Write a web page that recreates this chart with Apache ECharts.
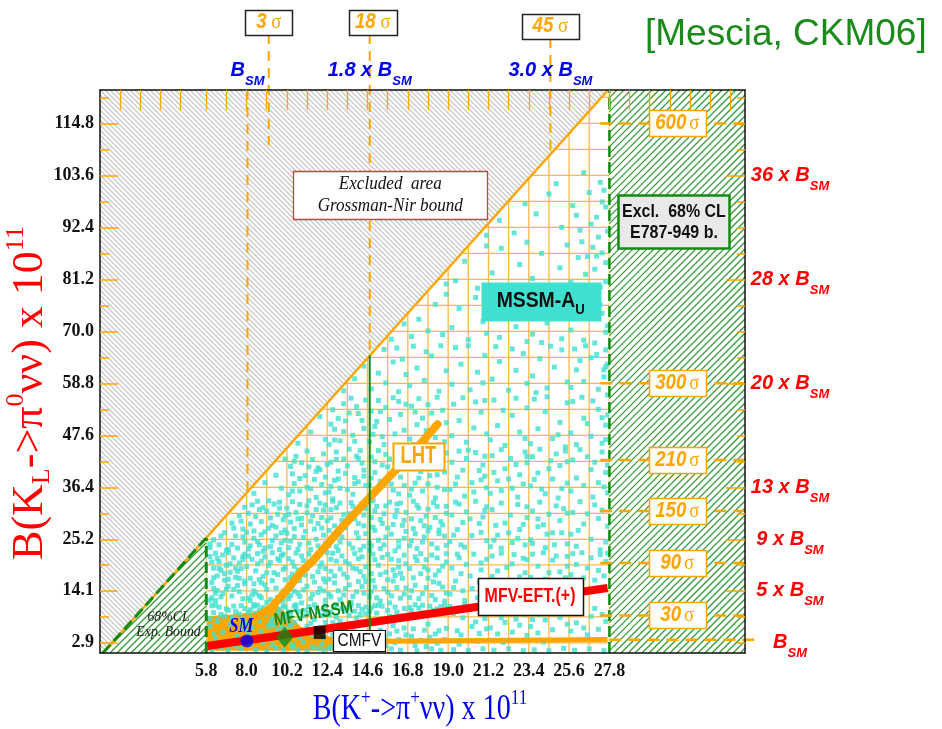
<!DOCTYPE html>
<html>
<head>
<meta charset="utf-8">
<script src="https://cdn.jsdelivr.net/npm/echarts@6/dist/echarts.min.js"></script>
<style>
  html, body { margin: 0; padding: 0; background: #ffffff; }
  #chart { width: 942px; height: 729px; }
</style>
</head>
<body>
<div id="chart"></div>
<script>
// ---------- axis ticks ----------
const xTicks = [5.8, 8.0, 10.2, 12.4, 14.6, 16.8, 19.0, 21.2, 23.4, 25.6, 27.8];
const yTicks = [2.9, 14.1, 25.2, 36.4, 47.6, 58.8, 70.0, 81.2, 92.4, 103.6, 114.8];
const yMinorTicks = [8.5, 19.7, 30.8, 42.0, 53.2, 64.4, 75.6, 86.8, 98.0, 109.2, 120.4];
const topTicks = [1.1, 2.2, 3.3, 4.4, 5.8, 6.9, 8.0, 9.1, 10.2, 11.3, 12.4, 13.5, 14.6, 15.7, 16.8, 17.9, 19.0,
  20.1, 21.2, 22.3, 23.4, 24.5, 25.6, 26.7, 27.8, 28.9, 30.0, 31.1, 32.2, 33.3, 34.4];
const rightMajorTicks = [14.1, 25.2, 36.4, 58.8, 81.2, 103.6];
const rightMinorTicks = [2.9, 8.5, 19.7, 30.8, 42.0, 47.6, 53.2, 64.4, 70.0, 75.6, 86.8, 92.4, 98.0, 109.2, 114.8, 120.4];

// orange binning grid of the allowed region
const gridX = [5.8, 6.9, 8.0, 9.1, 10.2, 11.3, 12.4, 13.5, 14.6, 15.7, 16.8, 17.9, 19.0, 20.1, 21.2, 22.3,
  23.4, 24.5, 25.6, 26.7, 27.8];
const gridY = [2.9, 8.5, 14.1, 19.7, 25.2, 30.8, 36.4, 42.0, 47.6, 53.2, 58.8, 64.4, 70.0, 75.6, 81.2, 86.8,
  92.4, 98.0, 103.6, 109.2, 114.8, 120.4];

// multiples of the SM value (right side, K_L) and top side (K+)
const klMultipleY = [2.9, 14.1, 25.2, 36.4, 58.8, 81.2, 103.6];
const klMultipleText = ['', '5 x ', '9 x ', '13 x ', '20 x ', '28 x ', '36 x '];
const kpMultipleX = [8.05, 14.72, 24.58];
const kpMultipleText = ['', '1.8 x ', '3.0 x '];

// significance levels
const topSigmaX = [9.21, 14.72, 24.58];
const topSigmaEndY = [110.1, 64.8, 108.2];
const topSigmaText = ['3', '18', '45'];
const sideSigmaY = [114.8, 58.8, 42.3, 31.3, 20.1, 8.8];
const sideSigmaText = ['600', '300', '210', '150', '90', '30'];
const smLineY = 3.55;
const smLineX = 8.05;

// bounds and regions
const gnBound = [[0.16, 0.7], [27.73, 122.0]];
const gnExcluded = [[0.0, 0.7], [0.16, 0.7], [27.73, 122.0], [0.0, 122.0]];
const expBoundRegion = [[0.16, 0.7], [5.8, 25.5], [5.8, 0.7]];
const e787Region = [[27.8, 0.7], [35.2, 0.7], [35.2, 122.0], [27.8, 122.0]];
const e787Edge = [[27.8, 0.7], [27.8, 122.0]];
const expBoundEdge = [[0.16, 0.7], [5.8, 25.5]];
const expBoundSide = [[5.8, 0.7], [5.8, 25.5]];
const mfvLine = [[14.72, 0.7], [14.72, 64.8]];

// model predictions
const mfvEftBand = [[5.85, 2.2], [27.7, 14.7]];
const cmfvBand = [[12.6, 3.2], [27.7, 3.6]];
const lhtCurve = [[8.5, 8.3], [9.3, 10.3], [10.1, 13.8], [10.94, 18.0], [11.65, 20.7], [13.12, 27.4],
  [14.76, 34.4], [16.24, 40.5], [17.4, 45.4], [18.42, 50.0]];
const lhtBlob = [[5.85, 1.2], [5.85, 8.6], [7.2, 9.0], [8.6, 9.6], [9.6, 11.3], [10.4, 8.5], [11.0, 6.3],
  [12.8, 3.9], [12.8, 1.2]];
const smPoint = [8.02, 3.3];
const mfvMssmPoint = [10.08, 4.1];
const cmfvPoint = [11.99, 5.1];

// MSSM-A_U scan points
const mssmPoints = [
  [6.0,8.1],[6.2,9.4],[6.5,10.6],[6.1,10.9],[6.8,8.6],[7.0,9.9],[7.3,10.8],[7.6,9.1],[7.9,10.3],[6.4,7.7],
  [6.9,10.2],[7.2,8.3],[7.7,10.9],[6.3,11.0],[6.6,9.0],[7.4,9.6],[7.8,8.0],[6.0,6.5],[6.7,5.2],[7.1,6.9],
  [7.5,4.4],[6.3,3.9],[7.9,5.8],[6.1,1.3],[7.0,1.2],[7.7,1.6],[6.6,2.0],[7.4,2.2],[6.2,4.8],[7.8,6.8],
  [8.1,9.5],[8.4,10.8],[8.7,7.6],[9.0,8.9],[9.3,10.4],[9.7,9.2],[10.0,10.9],[8.3,6.2],[8.8,5.4],[9.5,6.7],
  [9.9,7.8],[10.1,5.9],[8.5,1.4],[9.1,1.1],[9.6,1.8],[10.0,1.3],[8.2,2.6],[8.9,3.0],[9.4,2.5],[8.6,11.0],
  [9.2,6.4],[9.8,4.9],[10.1,8.5],[8.0,7.1],[8.3,8.4],[9.0,10.1],[9.6,11.1],[8.7,9.9],[9.4,8.0],[10.0,3.2],
  [10.3,9.6],[10.6,10.8],[10.9,8.2],[11.2,9.9],[11.5,7.1],[11.8,10.5],[12.1,8.8],[12.3,11.0],[10.4,6.5],[10.8,1.4],
  [11.3,1.1],[11.9,1.7],[12.2,1.2],[10.5,2.4],[11.1,3.1],[11.7,7.9],[12.0,6.2],[10.7,11.1],[11.4,10.7],[12.3,9.3],
  [10.3,7.8],[11.0,5.3],[11.6,4.6],[12.2,4.0],[10.9,4.1],
  [12.5,8.9],[12.8,10.7],[13.1,7.6],[13.4,9.8],[13.7,11.0],[14.0,8.3],[14.3,10.1],[14.5,9.2],[12.6,2.0],[13.0,1.3],
  [13.6,1.5],[14.2,1.2],[12.7,4.6],[13.3,5.1],[13.9,4.2],[14.4,4.8],[12.9,11.1],[13.5,10.4],[14.1,10.9],[13.2,3.9],
  [14.7,9.6],[15.0,10.9],[15.3,8.0],[15.7,9.9],[16.1,10.6],[16.5,8.7],[14.9,5.0],[15.5,4.3],[16.2,5.4],[16.7,4.6],
  [15.1,1.2],[15.9,1.6],[16.4,1.3],[14.8,7.2],[16.0,6.6],
  [16.9,10.5],[17.2,11.1],[17.6,9.3],[18.0,10.8],[18.4,10.2],[18.8,11.0],[17.0,4.3],[17.7,5.6],[18.3,4.8],[18.9,6.0],
  [17.3,1.2],[18.1,1.6],[18.6,1.3],[17.9,6.9],
  [19.1,10.7],[19.5,5.5],[19.9,11.1],[20.3,6.4],[20.7,4.9],[21.1,5.9],[19.3,1.4],[20.1,1.2],[20.9,1.6],[19.7,4.6],
  [20.5,7.4],[21.0,8.1],
  [21.3,6.1],[21.7,4.8],[22.1,7.3],[22.5,5.2],[22.9,6.7],[23.3,4.5],[21.5,1.3],[22.3,1.6],[23.1,1.2],[21.9,8.3],
  [22.7,8.0],[23.2,9.1],
  [23.5,6.4],[23.9,5.0],[24.3,7.8],[24.7,5.7],[25.1,8.4],[25.5,6.9],[23.7,1.4],[24.5,1.2],[25.3,1.7],[24.0,9.0],
  [24.9,9.6],[23.6,7.9],
  [25.7,5.4],[26.0,7.2],[26.4,6.1],[26.8,8.6],[27.2,5.8],[27.6,7.5],[25.9,1.3],[26.7,1.6],[27.5,1.2],[26.2,9.5],
  [27.0,10.3],[27.4,9.0],[25.8,10.8],[26.6,4.6],
  [6.0,12.1],[6.3,13.6],[6.6,12.8],[6.9,14.5],[7.2,13.0],[7.5,15.2],[7.8,12.4],[6.1,15.9],[6.4,17.3],[6.8,16.4],
  [7.1,18.1],[7.4,17.0],[7.7,18.9],[7.9,16.2],[6.2,19.0],[6.5,20.4],[6.9,19.6],[7.3,21.2],[7.6,20.1],[7.9,22.0],
  [6.0,21.5],[6.3,22.2],[6.7,21.8],[7.0,22.3],[7.4,19.0],[6.2,14.6],[7.6,13.9],[6.6,18.5],[7.0,16.6],[7.8,20.9],
  [8.1,12.5],[8.4,14.1],[8.7,13.0],[9.0,15.4],[9.3,12.2],[9.6,14.7],[9.9,13.3],[8.2,16.8],[8.5,18.4],[8.9,17.2],
  [9.2,19.5],[9.5,18.0],[9.8,20.6],[10.1,19.1],[8.3,20.9],[8.6,22.1],[9.0,21.4],[9.4,22.3],[9.7,21.0],[10.0,22.0],
  [8.0,19.3],[8.8,15.8],[10.1,16.5],[9.4,16.3],[8.3,13.2],[9.1,11.6],[10.0,12.0],[8.6,19.9],
  [10.3,12.4],[10.6,14.0],[10.9,12.9],[11.3,15.1],[11.6,13.3],[12.0,14.6],[12.3,12.1],[10.4,16.9],[10.8,18.6],[11.2,17.5],
  [11.5,19.8],[11.9,18.2],[12.2,16.7],[10.3,21.0],[10.7,22.2],[11.1,20.6],[11.4,22.0],[11.8,21.3],[12.1,20.1],[12.4,22.3],
  [10.6,19.4],[11.7,16.0],[12.3,18.9],[10.5,15.3],[11.0,11.5],
  [12.5,13.4],[12.8,15.8],[13.1,12.2],[13.4,14.6],[13.8,12.9],[14.1,16.1],[14.4,13.6],[12.6,18.3],[12.9,20.5],[13.3,17.7],
  [13.6,19.9],[14.0,18.8],[14.3,21.4],[12.7,22.2],[13.2,21.6],[13.9,22.1],[14.5,19.3],[12.5,16.6],[13.7,11.6],[14.4,17.2],
  [14.7,12.8],[15.0,14.9],[15.3,11.9],[15.7,13.8],[16.0,16.2],[16.4,12.5],[16.7,14.7],[14.8,17.8],[15.2,19.6],[15.6,18.1],
  [15.9,20.9],[16.3,19.2],[16.6,21.8],[14.9,22.0],[15.4,21.3],[16.1,17.4],[16.5,16.8],[15.8,11.5],
  [16.9,12.7],[17.2,15.3],[17.6,13.5],[17.9,16.8],[18.3,12.2],[18.7,14.9],[16.9,18.9],[17.3,20.6],[17.7,19.2],[18.1,21.8],
  [18.5,18.4],[18.9,20.3],[17.5,22.1],[18.2,16.0],[18.8,11.9],
  [19.1,13.4],[19.4,16.2],[19.8,14.1],[20.2,17.3],[20.6,12.6],[21.0,15.5],[19.2,19.0],[19.6,21.2],[20.0,19.8],[20.4,22.0],
  [20.8,18.6],[21.1,20.9],[19.9,12.0],[20.7,16.0],
  [21.3,15.7],[21.7,18.4],[22.1,16.3],[22.5,19.9],[22.9,17.1],[23.3,20.8],[21.4,21.6],[21.9,22.2],[22.6,21.9],[23.1,14.9],
  [22.3,13.0],[23.2,18.0],
  [23.5,17.0],[23.9,19.4],[24.3,16.6],[24.7,20.7],[25.1,18.2],[25.5,21.5],[23.6,22.0],[24.2,22.3],[24.9,15.9],[25.4,16.9],
  [24.0,11.6],[24.6,12.0],
  [25.7,17.6],[26.0,19.8],[26.4,16.9],[26.8,21.2],[27.2,18.5],[27.6,20.4],[25.8,22.1],[26.3,22.3],[27.0,16.4],[27.5,17.3],
  [26.6,19.0],[27.3,21.9],[25.9,15.8],[27.7,22.2],
  [6.0,23.4],[6.2,25.1],[6.5,24.0],[6.8,26.6],[7.0,23.0],[7.2,28.7],[7.4,25.9],[7.6,30.3],[7.8,27.4],[7.9,32.1],
  [8.1,23.1],[8.4,25.4],[8.7,24.0],[9.0,26.8],[9.3,23.6],[9.6,25.9],[9.9,24.4],[10.1,27.2],[8.2,28.5],[8.5,30.1],
  [8.8,29.0],[9.1,31.3],[9.4,28.2],[9.7,30.6],[10.0,29.4],[8.3,32.6],[8.6,33.4],[8.9,32.0],[9.2,33.5],[9.5,32.8],
  [9.8,33.2],[10.2,31.9],[8.0,26.7],[9.6,27.8],[8.9,22.6],
  [10.3,23.4],[10.6,25.8],[10.9,24.1],[11.2,26.9],[11.5,23.0],[11.8,25.2],[12.1,27.6],[12.3,24.3],[10.4,28.9],[10.7,31.0],
  [11.0,29.7],[11.3,32.4],[11.6,30.3],[11.9,28.6],[12.2,31.5],[10.5,33.3],[10.9,32.7],[11.4,33.5],[12.0,33.0],[12.4,29.2],
  [10.2,26.5],[11.7,27.4],
  [12.5,23.9],[12.8,26.2],[13.1,24.6],[13.4,27.7],[13.8,23.3],[14.1,25.5],[14.4,28.1],[12.6,29.8],[12.9,32.0],[13.3,30.5],
  [13.7,33.1],[14.0,31.2],[14.3,32.9],[12.7,33.4],[13.5,28.9],[14.5,26.4],[12.5,27.1],[13.0,22.8],[14.2,22.9],[13.9,29.6],
  [14.7,24.4],[15.0,27.1],[15.3,23.2],[15.6,25.7],[16.0,28.4],[16.3,24.8],[16.7,26.9],[14.8,29.9],[15.1,32.3],[15.5,30.7],
  [15.8,33.2],[16.2,31.4],[16.6,29.3],[14.9,33.5],[15.4,28.6],[16.4,33.0],[16.1,22.7],[14.7,22.9],
  [16.9,23.8],[17.2,26.4],[17.6,24.6],[18.0,27.8],[18.4,23.3],[18.8,25.9],[17.0,29.6],[17.4,31.9],[17.8,30.2],[18.2,33.1],
  [18.6,29.0],[18.9,32.3],[17.1,33.4],[17.7,28.1],[18.5,27.2],
  [19.1,24.7],[19.5,27.3],[19.9,23.5],[20.3,26.0],[20.7,28.6],[21.1,24.9],[19.2,30.4],[19.6,32.8],[20.0,31.1],[20.5,33.4],
  [20.9,30.0],[21.1,32.2],[19.8,28.8],
  [21.3,23.6],[21.7,26.1],[22.1,28.7],[22.5,24.5],[22.9,27.3],[23.3,29.9],[21.4,31.6],[21.9,33.0],[22.4,30.4],[22.8,32.7],
  [23.2,24.0],[21.6,28.2],
  [23.5,25.1],[23.9,27.9],[24.3,23.4],[24.7,26.6],[25.1,29.2],[25.5,24.2],[23.6,31.3],[24.0,33.2],[24.5,30.6],[24.9,32.4],
  [25.3,31.8],[24.2,28.3],
  [25.7,26.3],[26.0,23.7],[26.4,28.5],[26.8,25.2],[27.2,29.7],[27.6,24.6],[25.8,31.0],[26.2,33.3],[26.6,30.7],[27.0,32.6],
  [27.4,31.5],[27.7,28.0],[26.1,27.1],[27.3,22.9],
  [8.4,35.1],[9.0,37.4],[9.6,39.0],[9.9,36.2],[10.1,42.5],
  [10.3,34.8],[10.6,37.2],[10.9,35.6],[11.2,38.9],[11.5,36.1],[11.8,39.8],[12.1,37.0],[12.3,35.2],[10.4,40.9],[10.7,43.1],
  [11.0,41.7],[11.3,44.2],[11.6,42.4],[11.9,40.6],[12.2,43.6],[12.4,41.3],[10.5,39.3],[11.8,34.2],
  [12.5,35.4],[12.8,37.9],[13.1,36.2],[13.4,39.4],[13.8,34.9],[14.1,37.6],[14.4,40.1],[12.6,41.8],[12.9,44.0],[13.3,42.5],
  [13.6,44.6],[14.0,43.1],[14.3,41.6],[14.5,36.8],[13.0,39.9],[12.7,33.9],[13.9,38.5],[14.2,44.3],
  [14.7,36.9],[15.0,39.6],[15.3,37.7],[15.7,40.8],[16.0,35.8],[16.4,38.6],[16.7,42.3],[14.8,42.9],[15.2,44.3],[15.6,43.5],
  [16.1,41.4],[16.5,44.6],[14.9,34.6],[15.9,37.1],[16.3,35.0],[15.4,41.2],
  [16.9,34.7],[17.2,37.3],[17.6,35.6],[18.0,38.9],[18.4,36.4],[18.8,39.7],[17.0,41.1],[17.4,43.5],[17.8,42.0],[18.2,44.5],
  [18.6,41.9],[18.9,43.8],[17.5,39.8],[18.3,34.1],
  [19.1,35.9],[19.5,38.6],[19.9,34.5],[20.3,37.4],[20.7,40.0],[21.1,36.3],[19.2,41.8],[19.6,44.2],[20.0,42.6],[20.5,43.9],
  [20.9,41.2],[21.0,38.8],
  [21.3,35.1],[21.7,37.8],[22.1,40.4],[22.5,36.2],[22.9,39.1],[23.3,41.7],[21.4,43.2],[21.9,44.5],[22.4,42.6],[22.8,34.3],
  [23.2,44.0],
  [23.5,36.7],[23.9,39.5],[24.3,35.0],[24.7,38.2],[25.1,41.1],[25.5,37.3],[23.6,43.0],[24.0,44.6],[24.6,42.1],[25.0,34.1],
  [25.4,44.2],
  [25.7,35.6],[26.0,38.4],[26.4,36.8],[26.8,40.2],[27.2,37.4],[27.6,39.6],[25.8,42.3],[26.2,44.5],[26.6,43.0],[27.0,41.8],
  [27.4,44.0],[27.7,35.2],[26.9,34.3],
  [10.8,45.9],[11.5,48.3],[12.0,51.6],[12.3,46.7],
  [12.5,45.6],[12.8,48.9],[13.1,46.4],[13.4,50.7],[13.8,47.6],[14.1,52.3],[14.4,49.1],[12.7,53.1],[13.3,54.4],[13.7,55.6],
  [14.0,53.8],[14.5,55.2],[13.0,51.2],[12.6,50.0],
  [14.7,46.2],[15.0,49.5],[15.4,47.3],[15.8,51.0],[16.2,45.4],[16.6,48.7],[14.8,52.8],[15.2,55.1],[15.6,53.6],[16.0,55.7],
  [16.4,52.1],[16.7,54.3],[15.1,50.6],
  [16.9,46.8],[17.3,49.9],[17.7,47.2],[18.1,52.4],[18.5,45.5],[18.9,50.3],[17.0,53.9],[17.4,55.5],[17.9,54.2],[18.4,55.8],
  [18.7,53.0],[17.6,51.3],
  [19.2,47.5],[19.6,50.8],[20.0,46.1],[20.4,49.2],[20.8,52.6],[21.1,47.9],[19.3,54.3],[19.8,55.7],[20.5,54.8],[21.0,55.1],
  [21.3,46.6],[21.7,49.7],[22.1,45.4],[22.5,51.9],[22.9,48.3],[23.3,53.5],[21.5,55.2],[22.0,53.0],[22.7,55.6],[23.2,46.9],
  [23.5,45.8],[23.9,49.0],[24.3,52.7],[24.7,46.9],[25.1,50.4],[25.5,54.6],[23.7,55.4],[24.4,55.9],[25.0,47.7],[25.4,45.1],
  [25.7,48.1],[26.0,45.6],[26.4,51.3],[26.8,47.4],[27.2,53.2],[27.6,49.8],[25.8,54.9],[26.3,55.8],[26.9,55.0],[27.4,45.9],
  [27.7,52.0],[26.6,50.1],
  [13.3,57.2],[13.9,59.8],[14.4,62.5],
  [14.8,57.6],[15.2,61.0],[15.6,58.9],[16.0,63.4],[16.3,57.0],[16.7,60.7],[15.5,66.1],[16.2,66.4],[16.5,64.0],
  [16.9,58.3],[17.3,62.1],[17.7,59.4],[18.1,64.7],[18.5,57.1],[18.9,61.5],[17.1,66.8],[17.8,65.6],[18.6,66.9],
  [19.2,58.6],[19.7,62.9],[20.2,57.4],[20.6,61.2],[21.0,64.8],[19.4,66.5],[20.1,66.9],[20.9,58.9],
  [21.4,59.7],[21.8,63.5],[22.3,57.3],[22.7,61.6],[23.1,65.2],[21.6,66.7],[22.5,66.2],[23.3,58.8],
  [23.6,60.4],[24.0,64.1],[24.4,57.8],[24.8,62.3],[25.2,66.0],[25.5,59.1],[23.8,56.8],[24.6,66.8],
  [25.7,57.9],[26.0,61.7],[26.4,59.2],[26.8,64.3],[27.2,57.5],[27.6,62.4],[25.9,66.2],[26.5,66.9],[27.1,65.0],[27.5,60.2],
  [26.2,63.7],
  [15.9,68.3],[16.6,71.6],
  [17.0,68.9],[17.4,72.6],[17.9,70.1],[18.3,75.8],[18.7,69.3],[18.9,78.0],
  [19.2,70.8],[19.6,74.9],[20.1,68.2],[20.5,77.3],[20.9,72.1],[21.1,69.6],
  [21.4,73.7],[21.8,68.7],[22.3,76.4],[22.7,71.0],[23.1,78.1],[23.3,67.8],
  [23.6,69.4],[24.0,74.2],[24.4,71.8],[24.8,77.6],[25.2,68.4],[25.5,73.0],[24.1,67.6],
  [25.7,70.3],[26.0,75.4],[26.4,68.1],[26.8,72.7],[27.2,77.9],[27.6,69.8],[25.9,78.2],[26.6,76.1],[27.4,73.9],[27.0,67.5],
  [18.9,80.2],
  [19.4,80.9],[19.9,85.1],[20.6,79.3],[21.1,88.4],
  [21.4,82.6],[21.9,87.9],[22.4,79.8],[22.9,84.4],[23.3,89.2],
  [23.6,81.4],[24.1,86.8],[24.6,79.1],[25.1,83.7],[25.5,88.6],
  [25.7,80.6],[26.1,85.9],[26.5,82.3],[26.9,88.1],[27.3,79.5],[27.6,84.8],[26.3,89.3],[27.1,86.2],
  [21.1,90.7],[21.8,93.9],[22.6,91.2],[23.2,97.5],[23.8,95.3],[24.5,99.6],[25.2,92.4],
  [25.8,97.1],[26.2,91.8],[26.7,99.9],[27.1,94.6],[27.5,100.4],[26.0,95.0],
  [24.9,101.8],[26.4,104.2],[27.3,102.1],
  // denser core of the scan at low branching ratios
  [6.1,12.6],[6.4,14.2],[6.7,13.5],[7.0,15.1],[7.3,14.4],[7.6,16.8],[7.9,15.6],[6.2,16.9],[6.5,18.9],[6.8,17.8],
  [7.1,19.9],[7.5,18.3],[7.8,21.5],[6.1,20.3],[6.4,21.1],[6.9,22.8],[7.2,24.1],[7.5,23.3],[7.8,25.7],[6.0,24.2],
  [6.6,25.9],[7.3,27.6],[7.7,29.1],[7.9,24.6],[6.3,12.0],
  [8.2,10.0],[8.5,9.3],[8.9,10.5],[9.2,9.6],[9.8,10.1],[10.1,10.6],[9.5,4.6],[9.9,6.3],[8.6,3.8],[9.0,4.2],
  [8.1,5.1],[10.0,8.9],[9.7,5.6],[8.4,11.1],[9.3,7.2],
  [8.2,12.0],[8.5,13.6],[8.8,12.6],[9.1,14.4],[9.7,12.7],[10.0,14.0],[8.4,15.6],[8.7,16.5],[9.1,18.0],[9.7,17.6],
  [10.0,18.7],[8.1,21.6],[8.8,20.5],[9.3,20.2],[9.9,21.7],
  [8.2,23.8],[8.6,24.7],[9.0,23.3],[9.4,24.9],[9.8,23.0],[10.1,25.0],[8.4,27.0],[8.8,26.2],[9.2,27.6],[9.9,26.6],
  [8.1,30.8],[8.7,31.6],[9.3,29.8],[9.8,31.9],[10.1,30.3],
  [10.4,9.0],[10.7,10.1],[11.1,8.7],[11.4,9.3],[11.9,9.6],[12.2,10.2],[10.6,7.3],[11.3,6.4],[11.9,5.6],[12.3,7.3],
  [10.5,1.9],[11.6,2.0],[12.1,2.6],[10.9,9.6],[11.7,11.1],
  [10.4,13.1],[10.8,13.6],[11.1,14.3],[11.5,12.4],[11.9,13.7],[12.2,14.1],[10.5,17.7],[10.9,16.3],[11.3,18.9],[11.6,17.2],
  [12.0,19.3],[12.3,16.0],[10.5,20.3],[11.0,21.6],[11.6,20.6],
  [10.4,24.8],[10.8,23.0],[11.1,25.6],[11.4,24.4],[11.9,23.8],[12.2,26.1],[10.6,27.5],[11.0,28.3],[11.5,29.1],[11.8,31.6],
  [12.3,32.6],[10.3,30.6],[10.8,29.6],[11.3,30.9],[12.1,29.9],
  [12.6,9.6],[12.9,8.4],[13.2,10.3],[13.6,8.8],[13.9,9.7],[14.2,9.0],[14.5,10.6],[12.7,7.2],[13.4,6.6],[14.0,6.9],
  [12.5,1.7],[13.3,2.3],[14.0,2.0],[14.4,3.1],[13.8,5.6],
  [12.6,12.8],[13.0,14.1],[13.3,13.2],[13.6,15.4],[14.0,13.9],[14.3,15.0],[12.8,17.3],[13.1,18.8],[13.5,17.0],[13.8,19.0],
  [14.2,18.2],[14.5,16.1],[12.6,20.9],[13.4,20.4],[14.1,21.0],
  [12.6,24.9],[12.9,23.6],[13.2,25.7],[13.6,24.2],[14.0,26.6],[14.4,23.7],[12.8,28.1],[13.2,29.3],[13.6,30.7],[14.1,28.6],
  [14.4,30.4],[12.6,31.6],[13.1,33.0],[13.8,32.3],[14.5,31.8],
  [14.8,10.4],[15.1,9.3],[15.4,10.8],[15.8,8.6],[16.2,9.5],[16.6,10.3],[14.9,3.4],[15.3,5.6],[15.8,4.8],[16.3,3.6],
  [16.6,6.1],[14.7,1.8],[15.6,2.3],[16.1,2.9],[15.2,11.0],
  [14.8,13.9],[15.1,12.6],[15.5,14.6],[15.9,13.0],[16.2,14.8],[16.6,13.4],[14.9,16.3],[15.3,17.6],[15.7,16.5],[16.0,18.6],
  [16.4,17.9],[16.7,19.9],[15.0,20.8],[15.7,21.9],[16.3,20.6],
  [14.8,23.8],[15.2,25.0],[15.5,24.0],[15.9,26.3],[16.3,23.6],[16.6,25.4],[14.9,27.8],[15.3,29.5],[15.7,27.6],[16.1,30.1],
  [16.5,28.2],[15.0,31.3],[15.6,32.4],[16.2,32.8],[16.7,31.0],
  [17.0,9.8],[17.4,10.4],[17.8,9.0],[18.2,9.9],[18.6,10.7],[18.9,9.4],[17.1,5.9],[17.5,3.4],[18.0,4.1],[18.5,5.5],
  [17.2,2.3],[17.8,2.1],[18.4,2.8],[18.8,3.6],[17.6,11.0],
  [17.0,14.1],[17.4,12.4],[17.8,14.8],[18.1,13.1],[18.5,15.7],[18.9,13.6],[17.1,16.9],[17.5,17.8],[17.9,18.6],[18.3,17.5],
  [18.7,19.4],[17.2,21.4],[17.8,20.8],[18.4,21.2],[18.9,22.1],
  [17.0,24.9],[17.3,23.2],[17.7,25.7],[18.1,24.2],[18.5,26.4],[18.9,23.9],[17.1,27.5],[17.5,29.2],[17.9,27.0],[18.3,29.9],
  [18.7,28.3],[17.3,32.5],[17.9,31.7],[18.4,32.3],[18.9,30.8],
  [10.5,35.6],[10.9,38.3],[11.3,36.4],[11.7,38.1],[12.0,40.2],[12.3,38.6],[10.6,42.0],[11.4,40.8],
  [12.6,36.6],[13.0,38.2],[13.5,35.9],[13.9,37.2],[14.4,38.8],[12.9,42.4],[13.5,41.0],[14.1,42.6],
  [14.8,38.4],[15.2,36.0],[15.6,38.2],[16.1,39.8],[16.6,36.8],[15.0,41.9],[15.8,42.5],[16.4,43.4],
  [17.0,36.0],[17.4,38.4],[17.9,37.1],[18.4,39.1],[18.8,35.9],[17.2,42.4],[18.0,43.4],[18.7,42.8],
  [12.8,46.6],[13.3,48.4],[13.9,46.3],[14.3,50.8],[13.6,52.4],
  [14.9,47.8],[15.5,45.6],[16.1,47.9],[15.3,52.7],[16.3,54.9],
  [17.1,45.6],[17.8,48.6],[18.3,47.1],[18.8,46.2],[17.2,52.6],
  [19.3,9.2],[19.8,8.3],[20.4,10.5],[20.9,9.8],[19.6,2.6],[20.6,3.2],
  [19.3,14.8],[19.7,17.8],[20.3,14.6],[20.8,20.1],[21.1,13.9],[19.5,22.0],
  [19.3,26.1],[19.7,24.0],[20.2,29.6],[20.8,26.7],[21.0,31.4],[19.4,33.2],
  [19.4,37.1],[19.8,40.1],[20.4,35.4],[20.8,38.0],[21.0,43.1],[20.1,44.4],
  [21.5,10.6],[21.9,11.0],[22.4,10.2],[22.8,10.9],[23.2,11.1],[22.0,3.0],
  [21.4,17.2],[21.8,14.6],[22.2,19.1],[22.7,15.6],[23.1,21.1],[23.3,16.4],
  [21.5,25.0],[21.9,23.3],[22.3,26.6],[22.8,25.4],[23.1,28.4],[23.3,32.2],
  [21.5,39.6],[21.9,35.7],[22.3,38.2],[22.7,41.3],[23.1,37.1],[23.3,43.0],
  [23.6,10.4],[24.1,11.0],[24.6,10.6],[25.1,10.9],[25.4,11.1],[24.2,3.1],
  [23.7,13.1],[24.1,14.4],[24.5,18.0],[24.9,21.6],[25.3,14.0],[25.5,19.4],
  [23.6,24.3],[23.9,29.6],[24.4,26.3],[24.8,24.0],[25.2,26.6],[25.5,30.8],
  [23.7,38.1],[24.1,36.0],[24.5,40.4],[24.9,43.6],[25.2,36.1],[25.5,41.9],
  [27.5,36.5],[27.7,41.2],[27.6,46.7],[27.4,51.4],[27.7,56.3],[27.5,61.7],[27.6,66.0],[27.7,71.2],[27.3,75.8],[27.6,80.7],
  [27.4,86.9],[27.7,91.6],[27.6,96.8],[27.2,90.3],[26.8,93.1],[27.4,97.9],[26.6,86.1],[27.0,83.4],[26.2,78.8],[27.7,62.9]
];

// ---------- styling ----------
const X_MIN = 0, X_MAX = 35.2, Y_MIN = 0.7, Y_MAX = 122.0;
const ORANGE = '#ffa500';
const GRID_ORANGE = '#fbba48';
const CYAN = '#40e0d0';
const GREEN = '#138a13';
const HATCH_GREEN = '#2f9a2f';
const HATCH_GREY = '#cbcbcb';
const RED = '#ff0000';
const BLUE = '#0000f0';
const SERIF = '"Liberation Serif", "Times New Roman", serif';
const SANS = '"Liberation Sans", Arial, Helvetica, sans-serif';

// ---------- series builders ----------
function segmentSeries(segs, style, z, clip) {
  return {
    type: 'custom', coordinateSystem: 'cartesian2d', z: z, silent: true, clip: !!clip,
    encode: { x: [0, 2], y: [1, 3] },
    data: segs,
    renderItem: (params, api) => {
      const a = api.coord([api.value(0), api.value(1)]);
      const b = api.coord([api.value(2), api.value(3)]);
      return { type: 'line', shape: { x1: a[0], y1: a[1], x2: b[0], y2: b[1] }, style: Object.assign({ fill: 'none' }, style) };
    }
  };
}
function pathSeries(pts, style, z) {
  return {
    type: 'custom', coordinateSystem: 'cartesian2d', z: z, silent: true, clip: false,
    encode: { x: 0, y: 1 },
    data: [pts[0]],
    renderItem: (params, api) => ({
      type: 'polyline', shape: { points: pts.map(p => api.coord(p)) },
      style: Object.assign({ fill: 'none' }, style)
    })
  };
}
function polygonSeries(verts, style, z) {
  return {
    type: 'custom', coordinateSystem: 'cartesian2d', z: z, silent: true, clip: false,
    encode: { x: 0, y: 1 },
    data: [verts[0]],
    renderItem: (params, api) => ({
      type: 'polygon', shape: { points: verts.map(p => api.coord(p)) }, style: style
    })
  };
}
// convex region filled white and hatched with parallel 45-degree strokes
// dir > 0: strokes falling to the right, dir < 0: strokes rising to the right
function hatchSeries(verts, dir, step, color, width, z) {
  return {
    type: 'custom', coordinateSystem: 'cartesian2d', z: z, silent: true, clip: false,
    encode: { x: 0, y: 1 },
    data: [verts[0]],
    renderItem: (params, api) => {
      const pts = verts.map(v => api.coord(v));
      const key = p => (dir > 0 ? p[0] - p[1] : p[0] + p[1]);
      const ks = pts.map(key);
      const kMin = Math.min.apply(null, ks), kMax = Math.max.apply(null, ks);
      const kids = [{ type: 'polygon', shape: { points: pts }, style: { fill: '#ffffff' } }];
      for (let c = Math.ceil(kMin / step) * step; c <= kMax; c += step) {
        const hits = [];
        for (let i = 0; i < pts.length; i++) {
          const a = pts[i], b = pts[(i + 1) % pts.length];
          const fa = key(a) - c, fb = key(b) - c;
          if ((fa < 0 && fb >= 0) || (fa >= 0 && fb < 0)) {
            const t = fa / (fa - fb);
            hits.push([a[0] + t * (b[0] - a[0]), a[1] + t * (b[1] - a[1])]);
          }
        }
        if (hits.length >= 2) {
          hits.sort((p, q) => p[0] - q[0]);
          const p = hits[0], q = hits[hits.length - 1];
          kids.push({ type: 'line', shape: { x1: p[0], y1: p[1], x2: q[0], y2: q[1] },
            style: { stroke: color, lineWidth: width, fill: 'none' } });
        }
      }
      return { type: 'group', children: kids };
    }
  };
}
function textStyle(o) {
  return {
    text: o.text, fill: o.color, fontSize: o.fontSize, fontFamily: o.fontFamily,
    fontWeight: o.fontWeight || 'normal', fontStyle: o.fontStyle || 'normal',
    lineHeight: o.lineHeight, rich: o.rich,
    align: 'center', verticalAlign: 'middle', textAlign: 'center', textVerticalAlign: 'middle'
  };
}
function noteSeries(at, o) {
  return {
    type: 'custom', coordinateSystem: 'cartesian2d', z: o.z || 7, silent: true, clip: false,
    encode: { x: 0, y: 1 },
    data: [at],
    renderItem: (params, api) => {
      const c = api.coord([api.value(0), api.value(1)]);
      const kids = [];
      if (o.w) {
        kids.push({
          type: 'rect',
          shape: { x: Math.round(c[0] - o.w / 2) + 0.5, y: Math.round(c[1] - o.h / 2) + 0.5, width: o.w, height: o.h },
          style: { fill: o.fill || '#ffffff', stroke: o.stroke || 'none', lineWidth: o.lineWidth || 1 }
        });
      }
      kids.push({
        type: 'text', x: c[0], y: c[1] + (o.dy || 0), rotation: o.rotation || 0,
        scaleX: o.scaleX || 1, scaleY: o.scaleY || 1, style: textStyle(o)
      });
      return { type: 'group', children: kids };
    }
  };
}

// ---------- derived data for the builders ----------
const gridSegments = gridX.map(x => [x, Y_MIN, x, Y_MAX])
  .concat(gridY.map(y => [5.8, y, 27.8, y]));
const sideSigmaSegments = sideSigmaY.map(y => [27.3, y, 35.35, y]);
const seg = s => [s[0][0], s[0][1], s[1][0], s[1][1]];

const series = [
  // binning grid of the allowed region
  segmentSeries(gridSegments, { stroke: GRID_ORANGE, lineWidth: 1.3 }, 1, true),
  // LHT low-mass region
  polygonSeries(lhtBlob, { fill: ORANGE }, 1.5),
  // MSSM-A_U scan
  {
    type: 'scatter', data: mssmPoints, symbol: 'rect', symbolSize: 5, z: 2, silent: true,
    itemStyle: { color: CYAN }, animation: false
  },
  // LHT band, CMFV band and MFV-EFT band
  pathSeries(lhtCurve, { stroke: ORANGE, lineWidth: 8, lineCap: 'round', lineJoin: 'round' }, 3),
  segmentSeries([seg(cmfvBand)], { stroke: ORANGE, lineWidth: 5 }, 3),
  segmentSeries([seg(mfvEftBand)], { stroke: RED, lineWidth: 8 }, 3.2),
  // excluded regions
  hatchSeries(gnExcluded, 1, 5, HATCH_GREY, 1.4, 4),
  hatchSeries(expBoundRegion, -1, 7, HATCH_GREEN, 1.2, 4),
  hatchSeries(e787Region, -1, 7, HATCH_GREEN, 1.2, 4),
  // boundaries
  segmentSeries([seg(gnBound)], { stroke: ORANGE, lineWidth: 2.5 }, 5),
  segmentSeries([seg(expBoundEdge), seg(expBoundSide)], { stroke: GREEN, lineWidth: 3, lineDash: [11, 5] }, 5.2),
  segmentSeries([seg(e787Edge)], { stroke: GREEN, lineWidth: 2.5, lineDash: [11, 5] }, 5.2),
  segmentSeries([seg(mfvLine)], { stroke: GREEN, lineWidth: 2 }, 5),
  // SM value of B(K+) (vertical) and of B(K_L) (horizontal)
  segmentSeries([[smLineX, Y_MAX, smLineX, 4.4 * smLineX]], { stroke: ORANGE, lineWidth: 2, lineDash: [10, 7] }, 5),
  segmentSeries([[27.8, smLineY, 35.7, smLineY]], { stroke: ORANGE, lineWidth: 2.5, lineDash: [12, 7] }, 5.5, false),
  // significance levels on the K_L side
  segmentSeries(sideSigmaSegments, { stroke: ORANGE, lineWidth: 2.5, lineDash: [12, 7] }, 5.5, false),
  {
    type: 'custom', coordinateSystem: 'cartesian2d', z: 6, silent: true, clip: false,
    encode: { x: 0, y: 1 },
    data: sideSigmaY.map(y => [31.5, y]),
    renderItem: (params, api) => {
      const c = api.coord([api.value(0), api.value(1)]);
      const w = 57, h = 26;
      return {
        type: 'group', children: [
          { type: 'rect', shape: { x: Math.round(c[0] - w / 2) + 0.5, y: Math.round(c[1] - h / 2) + 0.5, width: w, height: h },
            style: { fill: '#ffffff', stroke: ORANGE, lineWidth: 1.5 } },
          { type: 'text', x: c[0], y: c[1], scaleX: 0.85,
            style: textStyle({ text: '{n|' + sideSigmaText[params.dataIndex] + '} {s|σ}', color: ORANGE,
              rich: { n: { fontSize: 22, fontWeight: 'bold', fontStyle: 'italic', fontFamily: SANS, fill: ORANGE },
                      s: { fontSize: 22, fontFamily: SERIF, fill: ORANGE } } }) }
        ]
      };
    }
  },
  // significance levels on the K+ side
  {
    type: 'custom', coordinateSystem: 'cartesian2d', z: 6, silent: true, clip: false,
    encode: { x: 0, y: 1 },
    data: topSigmaX.map((x, i) => [x, topSigmaEndY[i]]),
    renderItem: (params, api) => {
      const end = api.coord([api.value(0), api.value(1)]);
      const top = api.coord([api.value(0), Y_MAX]);
      const boxW = [47, 48, 57][params.dataIndex];
      const drop = [0, 0, 4][params.dataIndex];
      const cy = top[1] - 68 + drop;
      const cx = end[0] + (params.dataIndex === 1 ? 3 : 0);
      return {
        type: 'group', children: [
          { type: 'line', shape: { x1: end[0], y1: cy + 12, x2: end[0], y2: end[1] },
            style: { stroke: ORANGE, lineWidth: 2, lineDash: [10, 7], fill: 'none' } },
          { type: 'rect', shape: { x: Math.round(cx - boxW / 2) + 0.5, y: Math.round(cy - 12.5) + 0.5, width: boxW, height: 25 },
            style: { fill: '#ffffff', stroke: '#222222', lineWidth: 1.5 } },
          { type: 'text', x: cx, y: cy, scaleX: 0.85,
            style: textStyle({ text: '{n|' + topSigmaText[params.dataIndex] + '}{s| σ}', color: ORANGE,
              rich: { n: { fontSize: 22, fontWeight: 'bold', fontStyle: 'italic', fontFamily: SANS, fill: ORANGE },
                      s: { fontSize: 22, fontFamily: SERIF, fill: ORANGE } } }) }
        ]
      };
    }
  },
  // annotation boxes
  noteSeries([15.84, 99.4], { w: 194, h: 48, fill: '#ffffff', stroke: '#e8323c', lineWidth: 1.3,
    text: 'Excluded  area\nGrossman-Nir bound', color: '#111', fontSize: 19, fontStyle: 'italic',
    fontFamily: SERIF, lineHeight: 22, scaleX: 0.9 }),
  noteSeries([31.32, 93.6], { w: 111, h: 53, fill: '#e9e9e9', stroke: GREEN, lineWidth: 2.5,
    text: 'Excl.  68% CL\nE787-949 b.', color: '#111', fontSize: 19, fontWeight: 'bold',
    fontFamily: SANS, lineHeight: 21, scaleX: 0.84 }),
  noteSeries([24.05, 76.5], { w: 120, h: 39, fill: CYAN,
    text: '{m|MSSM-A}{s|U}', color: '#111',
    rich: { m: { fontSize: 22, fontWeight: 'bold', fontFamily: SANS, fill: '#111' },
            s: { fontSize: 15, fontWeight: 'bold', fontFamily: SANS, fill: '#111', padding: [18, 0, 0, 0] } },
    scaleX: 0.88 }),
  noteSeries([23.47, 12.9], { w: 105, h: 37, fill: '#ffffff', stroke: '#111', lineWidth: 1.5,
    text: 'MFV-EFT.(+)', color: RED, fontSize: 21, fontWeight: 'bold', fontFamily: SANS, scaleX: 0.76 }),
  noteSeries([14.16, 3.38], { w: 52, h: 21, fill: '#ffffff', stroke: '#111', lineWidth: 1.2,
    text: 'CMFV', color: '#111', fontSize: 18, fontFamily: SANS, scaleX: 0.86 }),
  noteSeries([17.38, 43.0], { w: 51, h: 27, fill: '#ffffff', stroke: ORANGE, lineWidth: 2,
    text: 'LHT', color: ORANGE, fontSize: 23, fontWeight: 'bold', fontFamily: SANS, scaleX: 0.8 }),
  noteSeries([11.65, 9.1], { text: 'MFV-MSSM', color: GREEN, fontSize: 18, fontWeight: 'bold',
    fontFamily: SANS, scaleX: 0.82, rotation: 0.17 }),
  noteSeries([7.71, 6.4], { text: 'SM', color: BLUE, fontSize: 21, fontWeight: 'bold', fontStyle: 'italic',
    fontFamily: SERIF, scaleX: 0.8 }),
  noteSeries([3.74, 6.8], { text: '68%CL\nExp. Bound', color: '#222', fontSize: 15, fontStyle: 'italic',
    fontFamily: SERIF, lineHeight: 15, scaleX: 0.92 }),
  // model points
  { type: 'scatter', data: [mfvMssmPoint], symbol: 'diamond', symbolSize: [17, 21], z: 8, silent: true,
    itemStyle: { color: GREEN } },
  { type: 'scatter', data: [cmfvPoint], symbol: 'rect', symbolSize: [12, 13], z: 8, silent: true,
    itemStyle: { color: '#000000' } },
  { type: 'scatter', data: [smPoint], symbol: 'circle', symbolSize: 13, z: 8, silent: true,
    itemStyle: { color: BLUE } }
];

const axisBlack = { show: true, lineStyle: { color: '#111', width: 1.5 } };
const kpRich = {
  m: { fontSize: 20, fontWeight: 'bold', fontStyle: 'italic', fontFamily: SANS, color: BLUE },
  s: { fontSize: 13, fontWeight: 'bold', fontStyle: 'italic', fontFamily: SANS, color: BLUE, padding: [22, 0, 0, 0] }
};
const klRich = {
  m: { fontSize: 20, fontWeight: 'bold', fontStyle: 'italic', fontFamily: SANS, color: RED },
  s: { fontSize: 13, fontWeight: 'bold', fontStyle: 'italic', fontFamily: SANS, color: RED, padding: [22, 0, 0, 0] }
};
function nearestIndex(list, v) {
  let best = 0;
  list.forEach((u, i) => { if (Math.abs(u - v) < Math.abs(list[best] - v)) best = i; });
  return best;
}

const option = {
  animation: false,
  backgroundColor: '#ffffff',
  grid: { left: 100, right: 197, top: 90, bottom: 76, containLabel: false },
  xAxis: [
    {
      type: 'value', position: 'bottom', min: X_MIN, max: X_MAX, z: 10,
      axisLine: axisBlack, axisTick: { show: false }, splitLine: { show: false },
      axisLabel: {
        customValues: xTicks, margin: 9, color: '#111', fontSize: 18, fontWeight: 'bold', fontFamily: SERIF,
        formatter: v => v.toFixed(1)
      }
    },
    {
      type: 'value', position: 'top', min: X_MIN, max: X_MAX, z: 10,
      axisLine: axisBlack, splitLine: { show: false },
      axisTick: { show: true, inside: true, length: 20, customValues: topTicks, lineStyle: { color: ORANGE, width: 1.3 } },
      axisLabel: {
        customValues: kpMultipleX, margin: 2, rich: kpRich,
        formatter: v => '{m|' + kpMultipleText[nearestIndex(kpMultipleX, v)] + 'B}{s|SM}'
      }
    }
  ],
  yAxis: [
    {
      type: 'value', position: 'left', min: Y_MIN, max: Y_MAX, z: 10,
      axisLine: axisBlack, splitLine: { show: false },
      axisTick: { show: true, inside: true, length: 18, customValues: yTicks, lineStyle: { color: ORANGE, width: 1.5 } },
      axisLabel: {
        customValues: yTicks, margin: 6, color: '#111', fontSize: 18, fontWeight: 'bold', fontFamily: SERIF,
        formatter: v => v.toFixed(1)
      }
    },
    {
      type: 'value', position: 'left', min: Y_MIN, max: Y_MAX, z: 10,
      axisLine: { show: false }, splitLine: { show: false }, axisLabel: { show: false },
      axisTick: { show: true, inside: true, length: 9, customValues: yMinorTicks, lineStyle: { color: ORANGE, width: 1.5 } }
    },
    {
      type: 'value', position: 'right', min: Y_MIN, max: Y_MAX, z: 10,
      axisLine: axisBlack, splitLine: { show: false },
      axisTick: { show: true, inside: true, length: 19, customValues: rightMajorTicks, lineStyle: { color: ORANGE, width: 1.5 } },
      axisLabel: {
        customValues: klMultipleY, margin: 45, align: 'center', rich: klRich,
        formatter: v => '{m|' + klMultipleText[nearestIndex(klMultipleY, v)] + 'B}{s|SM}'
      }
    },
    {
      type: 'value', position: 'right', min: Y_MIN, max: Y_MAX, z: 10,
      axisLine: { show: false }, splitLine: { show: false }, axisLabel: { show: false },
      axisTick: { show: true, inside: true, length: 8, customValues: rightMinorTicks, lineStyle: { color: ORANGE, width: 1.5 } }
    }
  ],
  graphic: [
    {
      type: 'text', left: 645, top: 16, z: 20, silent: true,
      style: { text: '[Mescia, CKM06]', fill: '#1a8a1a', fontSize: 37, fontFamily: SANS }
    },
    {
      type: 'text', x: 420, y: 710, z: 20, silent: true, scaleX: 0.78,
      style: {
        text: 'B(K{sup|+}->π{sup|+}νν) x 10{sup|11}', fill: BLUE, fontSize: 36, fontFamily: SERIF,
        align: 'center', verticalAlign: 'middle', textAlign: 'center', textVerticalAlign: 'middle',
        rich: { sup: { fontSize: 22, fontFamily: SERIF, fill: BLUE, padding: [0, 0, 24, 0] } }
      }
    },
    {
      type: 'text', x: 30, y: 393, z: 20, silent: true, rotation: Math.PI / 2,
      style: {
        text: 'B(K{sub|L}->π{sup|0}νν) x 10{sup|11}', fill: RED, fontSize: 44, fontFamily: SERIF,
        align: 'center', verticalAlign: 'middle', textAlign: 'center', textVerticalAlign: 'middle',
        rich: {
          sup: { fontSize: 26, fontFamily: SERIF, fill: RED, padding: [0, 0, 28, 0] },
          sub: { fontSize: 26, fontFamily: SERIF, fill: RED, padding: [24, 0, 0, 0] }
        }
      }
    }
  ],
  series: series
};

const chart = echarts.init(document.getElementById('chart'), null, { renderer: 'canvas' });
chart.setOption(option);
</script>
</body>
</html>
